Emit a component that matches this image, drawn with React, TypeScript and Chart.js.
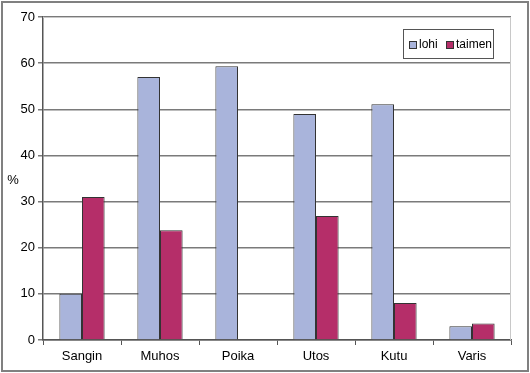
import React, { useEffect, useRef } from "react";
import { Chart, registerables } from "chart.js";

Chart.register(...registerables);

const categories = ["Sangin", "Muhos", "Poika", "Utos", "Kutu", "Varis"];
const lohiValues = [10, 57, 59.3, 49, 51.1, 3];
const taimenValues = [31, 23.8, 0, 26.9, 8, 3.6];
const seriesNames = ["lohi", "taimen"];
const seriesColors = ["#a9b4db", "#b52e69"];

const FONT = "'Liberation Sans', Arial, sans-serif";

const decorPlugin = {
  id: "decor",
  beforeDatasetsDraw(chart: any) {
    const { ctx, chartArea } = chart;
    ctx.save();
    ctx.strokeStyle = "#c8c8c8";
    ctx.lineWidth = 1;
    ctx.beginPath();
    ctx.moveTo(chartArea.left, chartArea.top + 0.5);
    ctx.lineTo(chartArea.right - 0.5, chartArea.top + 0.5);
    ctx.lineTo(chartArea.right - 0.5, chartArea.bottom);
    ctx.stroke();
    ctx.restore();
  },
  afterDraw(chart: any) {
    const { ctx, width, height } = chart;
    ctx.save();
    // outer border
    ctx.strokeStyle = "#808080";
    ctx.lineWidth = 2;
    ctx.strokeRect(2, 2, width - 4, height - 4);
    // y title
    ctx.fillStyle = "#000";
    ctx.font = `13px ${FONT}`;
    ctx.textAlign = "center";
    ctx.textBaseline = "middle";
    ctx.fillText("%", 13, 180);
    // legend box
    ctx.fillStyle = "#fff";
    ctx.fillRect(403, 29, 90, 29);
    ctx.strokeStyle = "#555";
    ctx.lineWidth = 1;
    ctx.strokeRect(403.5, 29.5, 90, 29);
    const items = chart.data.datasets.map((d: any) => ({ label: d.label, color: d.backgroundColor }));
    const xs = [409, 446];
    ctx.font = `12px ${FONT}`;
    ctx.textAlign = "left";
    items.forEach((it: any, i: number) => {
      const x = xs[i];
      ctx.fillStyle = it.color;
      ctx.fillRect(x, 41, 7, 7);
      ctx.strokeStyle = "#333";
      ctx.strokeRect(x + 0.5, 41.5, 7, 7);
      ctx.fillStyle = "#000";
      ctx.fillText(it.label, x + 10, 45);
    });
    ctx.restore();
  },
};

export default function App() {
  const ref = useRef<HTMLCanvasElement>(null);
  useEffect(() => {
    const chart = new Chart(ref.current!, {
      type: "bar",
      data: {
        labels: categories,
        datasets: [
          {
            label: seriesNames[0],
            data: lohiValues,
            backgroundColor: seriesColors[0],
            borderColor: "#333",
            borderWidth: 1,
          },
          {
            label: seriesNames[1],
            data: taimenValues,
            backgroundColor: seriesColors[1],
            borderColor: "#333",
            borderWidth: 1,
          },
        ],
      },
      options: {
        animation: false,
        responsive: false,
        maintainAspectRatio: false,
        layout: { padding: { top: 17, right: 19, bottom: 0, left: 0 } },
        datasets: { bar: { barPercentage: 1, categoryPercentage: 0.58 } },
        plugins: { legend: { display: false }, tooltip: { enabled: false } },
        scales: {
          x: {
            grid: {
              offset: true,
              drawOnChartArea: false,
              drawTicks: true,
              tickLength: 5,
              color: "#555",
            },
            border: { color: "#555", width: 1.5 },
            ticks: { color: "#000", font: { family: FONT, size: 13 }, padding: 4 },
            afterFit: (s: any) => {
              s.height = 33;
            },
          },
          y: {
            min: 0,
            max: 70,
            ticks: { stepSize: 10, color: "#000", font: { family: FONT, size: 13 }, padding: 3 },
            grid: { color: "#7a7a7a", lineWidth: 1.5, tickLength: 5, drawTicks: true },
            border: { color: "#555", width: 1.5 },
            afterFit: (s: any) => {
              s.width = 43;
            },
          },
        },
      },
      plugins: [decorPlugin],
    });
    return () => chart.destroy();
  }, []);
  return (
    <div style={{ position: "fixed", left: 0, top: 0, width: 530, height: 373, background: "#fff" }}>
      <canvas ref={ref} width={530} height={373} />
    </div>
  );
}
